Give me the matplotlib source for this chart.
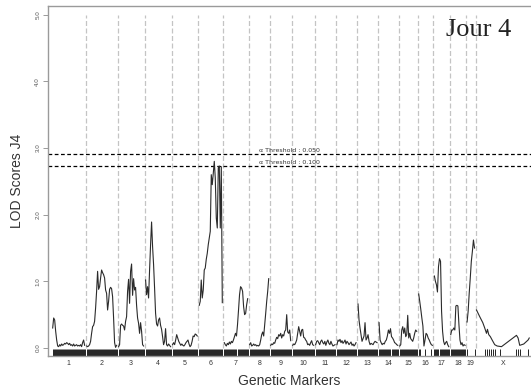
import matplotlib
matplotlib.use("Agg")
import matplotlib.pyplot as plt
import numpy as np

################################################################################
# Data (LOD scan, day 4)
chrom_names = ["1", "2", "3", "4", "5", "6", "7", "8", "9", "10",
               "11", "12", "13", "14", "15", "16", "17", "18", "19", "X"]
chrom_len_mb = [198, 186, 155, 155, 153, 143, 145, 118, 124, 130,
                120, 118, 118, 116, 105, 85, 89, 89, 46, 327]

# LOD values on an even scan grid along each autosome
lod_chr = [
    [0.30, 0.45, 0.42, 0.25, 0.12, 0.03, 0.02, 0.05, 0.03, 0.06, 0.04, 0.05,
     0.07, 0.06, 0.08, 0.07, 0.05, 0.07, 0.04, 0.05, 0.03, 0.06, 0.03, 0.04,
     0.05, 0.03, 0.04, 0.03, 0.05, 0.02, 0.08, 0.12, 0.04],
    [0.03, 0.02, 0.03, 0.05, 0.10, 0.22, 0.32, 0.34, 0.40, 0.60, 0.85, 1.15,
     0.88, 0.92, 1.05, 1.17, 1.13, 1.10, 1.05, 0.87, 0.82, 0.57, 0.70, 0.88,
     0.91, 0.89, 0.77, 0.45, 0.08, 0.01, 0.04],
    [0.02, 0.05, 0.34, 0.36, 0.34, 0.33, 0.27, 0.40, 0.47, 0.85, 1.03, 0.67,
     1.15, 1.26, 0.79, 1.04, 0.87, 0.91, 0.64, 0.45, 0.37, 0.22, 0.38, 0.25,
     0.05, 0.03],
    [1.02, 0.80, 0.92, 0.75, 1.17, 1.55, 1.89, 1.52, 1.25, 0.90, 0.52, 0.36,
     0.33, 0.42, 0.45, 0.34, 0.28, 0.17, 0.05, 0.10, 0.29, 0.05, 0.03, 0.06,
     0.04, 0.02],
    [0.05, 0.08, 0.05, 0.12, 0.20, 0.15, 0.10, 0.07, 0.04, 0.06, 0.04, 0.03,
     0.05, 0.08, 0.10, 0.12, 0.06, 0.02, 0.04, 0.10, 0.18, 0.17, 0.21, 0.20,
     0.18],
    [0.64, 0.70, 1.02, 0.75, 0.87, 1.17, 1.20, 1.33, 1.42, 1.55, 1.65, 1.75,
     2.60, 2.45, 2.62, 2.80, 2.55, 1.95, 1.80, 2.70, 2.73, 1.80, 2.72, 0.68],
    [0.08, 0.05, 0.03, 0.07, 0.05, 0.09, 0.06, 0.10, 0.08, 0.12, 0.17, 0.22,
     0.18, 0.35, 0.57, 0.80, 0.92, 0.90, 0.85, 0.62, 0.50, 0.52, 0.65, 0.74],
    [0.05, 0.08, 0.03, 0.04, 0.06, 0.04, 0.05, 0.03, 0.04, 0.03, 0.05, 0.12,
     0.20, 0.24, 0.18, 0.35, 0.52, 0.70, 0.85, 1.04],
    [0.04, 0.06, 0.05, 0.08, 0.07, 0.12, 0.16, 0.14, 0.20, 0.18, 0.22, 0.15,
     0.20, 0.18, 0.25, 0.27, 0.50, 0.24, 0.22, 0.27, 0.11],
    [0.04, 0.06, 0.05, 0.08, 0.12, 0.22, 0.32, 0.25, 0.18, 0.27, 0.28, 0.16,
     0.15, 0.12, 0.10, 0.05, 0.06, 0.04, 0.08, 0.11, 0.05, 0.04],
    [0.05, 0.10, 0.11, 0.08, 0.05, 0.10, 0.12, 0.08, 0.06, 0.10, 0.04, 0.09,
     0.12, 0.07, 0.05, 0.10, 0.06, 0.03, 0.04, 0.05],
    [0.05, 0.12, 0.10, 0.13, 0.08, 0.11, 0.07, 0.09, 0.12, 0.06, 0.10, 0.08,
     0.05, 0.07, 0.09, 0.04, 0.06, 0.03, 0.05, 0.08],
    [0.66, 0.42, 0.30, 0.20, 0.10, 0.14, 0.18, 0.38, 0.12, 0.15, 0.20, 0.10,
     0.05, 0.07, 0.06, 0.05, 0.08, 0.10, 0.09, 0.08],
    [0.38, 0.12, 0.08, 0.05, 0.07, 0.06, 0.10, 0.12, 0.18, 0.27, 0.22, 0.29,
     0.17, 0.15, 0.12, 0.08, 0.07, 0.05, 0.04],
    [0.03, 0.05, 0.27, 0.32, 0.22, 0.30, 0.17, 0.20, 0.49, 0.15, 0.22, 0.14,
     0.12, 0.10, 0.15, 0.22, 0.27, 0.25],
    [0.81, 0.70, 0.58, 0.45, 0.33, 0.03, 0.12, 0.22, 0.20, 0.15, 0.12, 0.08,
     0.05, 0.04],
    [1.08, 1.00, 0.95, 0.84, 1.22, 1.34, 1.30, 0.55, 0.25, 0.10, 0.05, 0.08,
     0.10, 0.05, 0.02],
    [0.20, 0.27, 0.27, 0.30, 0.27, 0.63, 0.64, 0.63, 0.35, 0.12, 0.05, 0.08,
     0.03, 0.05, 0.04],
    [0.39, 0.55, 0.82, 1.05, 1.30, 1.45, 1.62, 1.50],
]

# chromosome X: scan points at its (sparse) markers
x_pos_mb = [0, 20, 39, 51, 62, 68, 76, 86, 97, 113, 128, 155,
            248, 258, 268, 293, 320, 327]
x_lod = [0.57, 0.47, 0.38, 0.30, 0.22, 0.28, 0.20, 0.17, 0.12, 0.05, 0.03, 0.02,
         0.19, 0.15, 0.04, 0.06, 0.12, 0.15]

# sparse marker sets (rug) ; other chromosomes use their scan grid
sparse_rug_chroms = ["16", "19", "X"]
sparse_rug_mb = [[2, 9, 37, 79],
                 [2.5, 46],
                 [51, 64, 76, 89, 103, 117, 148, 247, 256, 267, 318]]

threshold_lod = [2.91, 2.73]
threshold_alpha = ["0.050", "0.100"]
################################################################################

CHROM_GAP = 12.4
LINE_COL = "#2b2b2b"
GRID_COL = "#c4c4c4"
SPINE_COL = "#9a9a9a"

plt.rcParams['font.family'] = ['Liberation Sans', 'DejaVu Sans']

fig = plt.figure(figsize=(5.31, 3.92), dpi=100)
ax = fig.add_axes([48 / 531, 36 / 392, 483 / 531, 350 / 392])

starts = []
pos = 0.0
for L in chrom_len_mb:
    starts.append(pos)
    pos += L + CHROM_GAP
ends = [s + L for s, L in zip(starts, chrom_len_mb)]

# chromosome dividers
for e in ends[:-1]:
    ax.plot([e + CHROM_GAP / 2] * 2, [0, 5], color=GRID_COL, lw=0.9,
            dashes=(4, 2), zorder=1)

# LOD curves and marker rug
rug_x = []
for i, name in enumerate(chrom_names):
    if name == "X":
        xs = starts[i] + np.array(x_pos_mb)
        ys = x_lod
    else:
        xs = np.linspace(starts[i], ends[i], len(lod_chr[i]))
        ys = lod_chr[i]
    ax.plot(xs, ys, color=LINE_COL, lw=0.8, zorder=3)
    if name in sparse_rug_chroms:
        rug_x.extend(starts[i] + np.array(sparse_rug_mb[sparse_rug_chroms.index(name)]))
    else:
        rug_x.extend(xs)
ax.vlines(rug_x, -0.115, -0.01, color="black", lw=0.6, zorder=2)

# thresholds
x_mid = (-29 + ends[-1] + 11) / 2
for lev, a in zip(threshold_lod, threshold_alpha):
    ax.axhline(lev, color="black", lw=0.9, dashes=(3, 2), zorder=2)
    ax.text(x_mid, lev + 0.02, "α Threshold : " + a, ha="center", va="bottom",
            fontsize=4.5, color="#333333", family=['DejaVu Sans'])

ax.set_xlim(-29, ends[-1] + 11)
ax.set_ylim(-0.12, 5.13)

ax.set_yticks([0, 1, 2, 3, 4, 5])
ax.set_yticklabels(["0.0", "1.0", "2.0", "3.0", "4.0", "5.0"], rotation=90,
                   va="center", fontsize=4.5, color="#555555")
ax.tick_params(axis="y", length=3.5, width=0.7, color=SPINE_COL, pad=2)

centers = [(s + e) / 2 for s, e in zip(starts, ends)]
ax.set_xticks(centers)
ax.set_xticklabels(chrom_names, fontsize=5, color="#333333")
ax.tick_params(axis="x", length=0, pad=3)

for side in ["left", "top", "bottom"]:
    ax.spines[side].set_color(SPINE_COL)
    ax.spines[side].set_linewidth(1.0)
ax.spines["right"].set_visible(False)

ax.set_ylabel("LOD Scores J4", fontsize=10, color="#333333", labelpad=8)
ax.set_xlabel("Genetic Markers", fontsize=10, color="#333333", labelpad=5)

ax.text(0.959, 0.962, "Jour 4", transform=ax.transAxes, ha="right", va="top",
        fontsize=19, color="#222222", family=['Liberation Serif'])

plt.savefig("out.png", dpi=100)
plt.close()
